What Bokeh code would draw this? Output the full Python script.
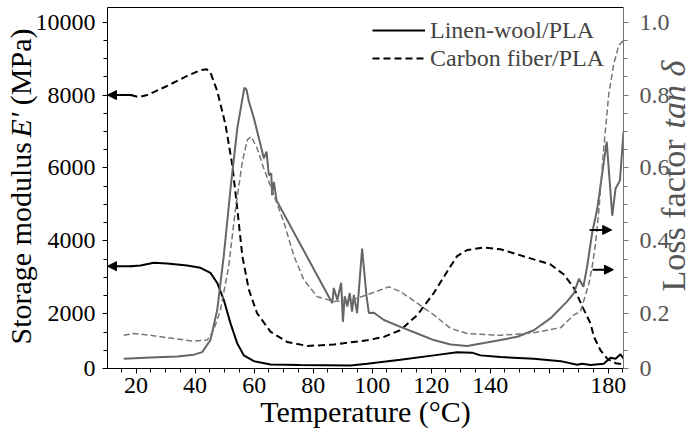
import math
from bokeh.plotting import figure
from bokeh.models import (Range1d, LinearAxis, FixedTicker, Label, Arrow, NormalHead,
                          Legend, LegendItem, PrintfTickFormatter)
from bokeh.embed import file_html
from bokeh.resources import INLINE

# ---------------- data ----------------
cf_E_T = [18.1, 20.8, 23.8, 30.5, 37.3, 41.8, 43.9, 45.2, 47.5, 50.3, 52.6, 54.3, 56.0, 58.2, 61.0,
          65.6, 71.2, 78.0, 87.0, 98.3, 104.0, 109.6, 115.3, 120.9, 125.5, 128.8, 132.2, 137.9,
          143.5, 149.2, 154.8, 160.5, 165.0, 168.4, 171.8, 174.0, 175.2, 177.4, 179.7, 182.5, 185.2]
cf_E = [7998, 7943, 7998, 8248, 8525, 8680, 8707, 8616, 8109, 7184, 6076, 4877, 3583, 2661, 2015,
        1506, 1229, 1118, 1156, 1276, 1367, 1553, 1968, 2569, 3168, 3583, 3749, 3816,
        3769, 3630, 3492, 3353, 3076, 2708, 2107, 1738, 1367, 999, 769, 647, 611]

lw_E_T = [18.1, 21.5, 26.0, 30.5, 37.3, 41.8, 45.2, 47.5, 49.7, 52.0, 54.3, 56.5, 59.9, 65.6, 75.7,
          92.7, 98.3, 109.6, 120.9, 128.8, 133.9, 136.7, 143.5, 154.8, 163.9, 169.5, 171.2, 174.0,
          178.5, 180.8, 182.5, 184.2, 185.2]
lw_E = [3306, 3325, 3400, 3381, 3325, 3262, 3123, 2846, 2384, 1738, 1184, 860, 702, 611, 597,
        583, 630, 741, 860, 943, 935, 860, 813, 769, 702, 603, 630, 597,
        630, 796, 769, 888, 769]

lw_tan_T = [15.8, 24.9, 33.9, 39.6, 42.4, 45.2, 47.5, 49.7, 52.0, 54.3, 56.0, 56.7, 57.4, 58.2, 59.9,
            61.6, 63.3, 64.2, 65.0, 65.8, 66.1, 66.7, 67.6, 75.7, 86.5, 87.0, 88.2, 89.5, 90.1, 90.7,
            91.6, 92.4, 93.2, 93.8, 94.9, 96.6, 98.1, 98.9, 100.6, 104.0, 109.6, 115.3, 120.9, 126.6,
            132.2, 137.9, 143.5, 149.2, 154.8, 160.5, 166.1, 168.4, 170.1, 171.6, 172.9, 174.6,
            176.3, 179.5, 181.4, 182.5, 184.0, 185.2]
lw_tan = [0.077, 0.080, 0.083, 0.088, 0.095, 0.128, 0.211, 0.358, 0.543, 0.709, 0.788, 0.820, 0.815,
          0.783, 0.737, 0.682, 0.626, 0.645, 0.580, 0.585, 0.525, 0.562, 0.511, 0.390, 0.229, 0.271,
          0.238, 0.285, 0.178, 0.248, 0.220, 0.257, 0.206, 0.252, 0.202, 0.379, 0.248, 0.202, 0.203,
          0.183, 0.164, 0.146, 0.128, 0.116, 0.112, 0.120, 0.128, 0.137, 0.155, 0.188, 0.234, 0.257,
          0.296, 0.274, 0.331, 0.423, 0.488, 0.672, 0.469, 0.543, 0.566, 0.700]

cf_tan_T = [15.8, 19.2, 24.9, 32.8, 39.6, 44.1, 46.3, 48.6, 51.4, 53.7, 56.0, 57.7, 59.0, 61.0, 63.3,
            66.7, 70.1, 73.5, 76.8, 81.4, 87.0, 92.7, 98.3, 105.7, 109.6, 115.3, 120.9, 126.6, 132.2,
            143.5, 154.8, 163.9, 168.4, 170.6, 171.8, 173.4, 174.7, 175.7, 176.8, 178.5, 180.2,
            181.9, 183.6, 185.1]
cf_tan = [0.141, 0.146, 0.141, 0.132, 0.125, 0.128, 0.155, 0.211, 0.331, 0.488, 0.617, 0.677, 0.686,
          0.654, 0.598, 0.525, 0.451, 0.358, 0.294, 0.247, 0.234, 0.237, 0.252, 0.274, 0.261, 0.229,
          0.197, 0.160, 0.146, 0.141, 0.148, 0.162, 0.197, 0.206, 0.238, 0.280, 0.335, 0.391, 0.479,
          0.654, 0.802, 0.885, 0.936, 0.949]

# arrows marking which axis each curve belongs to
left_arrow_T = [18.8, 10.3]
left_arrow_E = [7998, 3306]
right_arrow_T_start = [173.7, 174.7]
right_arrow_T_end = [181.2, 181.8]
right_arrow_tan = [0.430, 0.321]

x_ticks = [20, 40, 60, 80, 100, 120, 140, 160, 180]
x_tick_labels = {160: ""}
E_ticks = [500, 2000, 4000, 6000, 8000, 10000]
tan_ticks = [0.05, 0.2, 0.4, 0.6, 0.8, 1.0]

FONT = "Liberation Serif"
TICK_FS = "24px"
LEG_FS = "24px"
TITLE_FS = "30px"
RTITLE_FS = "34px"
GRAY = "#555555"
W, H = 697, 432

p = figure(width=W, height=H, output_backend="svg", toolbar_location=None,
           x_range=Range1d(10.3, 185.2), y_range=Range1d(500, 10400),
           min_border_left=107, min_border_right=74, min_border_top=7, min_border_bottom=64)
p.outline_line_color = None
p.grid.visible = False
p.background_fill_color = "white"
p.border_fill_color = "white"

xa = p.xaxis[0]
xa.ticker = FixedTicker(ticks=x_ticks, minor_ticks=list(range(10, 190, 5)))
xa.major_label_overrides = x_tick_labels
ya = p.yaxis[0]
ya.ticker = FixedTicker(ticks=E_ticks, minor_ticks=list(range(500, 10500, 500)))
ya.major_label_overrides = {500: "0"}

for ax in (xa, ya):
    ax.axis_line_color = "black"
    ax.major_tick_line_color = "black"
    ax.minor_tick_line_color = "black"
    ax.major_tick_in = 0
    ax.minor_tick_in = 0
    ax.major_tick_out = 5
    ax.minor_tick_out = 4
    ax.major_label_text_font = FONT
    ax.major_label_text_font_size = TICK_FS
    ax.major_label_text_color = "black"
xa.major_label_standoff = 4
ya.major_label_standoff = 7

p.extra_y_ranges = {"tan": Range1d(0.05, 1.04)}
ra = LinearAxis(y_range_name="tan",
                ticker=FixedTicker(ticks=tan_ticks, minor_ticks=[0.05 + 0.05 * i for i in range(20)]),
                formatter=PrintfTickFormatter(format="%.1f"))
ra.major_label_overrides = {0.05: "0"}
ra.axis_line_color = "#777777"
ra.major_tick_line_color = "#777777"
ra.minor_tick_line_color = "#777777"
ra.major_tick_in = 0
ra.minor_tick_in = 0
ra.major_tick_out = 5
ra.minor_tick_out = 4
ra.major_label_text_font = FONT
ra.major_label_text_font_size = TICK_FS
ra.major_label_text_color = GRAY
ra.major_label_standoff = 11
p.add_layout(ra, "right")

ta = LinearAxis(ticker=FixedTicker(ticks=[]), major_label_text_font_size="0px",
                major_tick_out=0, minor_tick_out=0, major_tick_in=0, minor_tick_in=0,
                major_label_standoff=0, axis_line_color="black")
p.add_layout(ta, "above")

r_cfE = p.line(cf_E_T, cf_E, line_color="black", line_width=2, line_dash="7 4")
r_lwE = p.line(lw_E_T, lw_E, line_color="black", line_width=2)
p.line(lw_tan_T, lw_tan, line_color="#666666", line_width=2, y_range_name="tan")
p.line(cf_tan_T, cf_tan, line_color="#777777", line_width=1.5, line_dash="6 3", y_range_name="tan")

for yv in left_arrow_E:
    p.add_layout(Arrow(end=NormalHead(size=9, fill_color="black", line_color="black"),
                       x_start=left_arrow_T[0], y_start=yv, x_end=left_arrow_T[1], y_end=yv,
                       line_width=2, line_color="black"))
for xs, xe, yv in zip(right_arrow_T_start, right_arrow_T_end, right_arrow_tan):
    p.add_layout(Arrow(end=NormalHead(size=9, fill_color="black", line_color="black"),
                       x_start=xs, y_start=yv, x_end=xe, y_end=yv, y_range_name="tan",
                       line_width=2, line_color="black"))

legend = Legend(items=[LegendItem(label="Linen-wool/PLA", renderers=[r_lwE]),
                       LegendItem(label="Carbon fiber/PLA", renderers=[r_cfE])],
                location=(265, 296), glyph_width=53, glyph_height=28, label_height=28,
                label_standoff=5, spacing=0, padding=0, margin=0,
                background_fill_alpha=0, border_line_alpha=0,
                label_text_font=FONT, label_text_font_size=LEG_FS)
p.add_layout(legend)

# ---------- transparent overlay carrying the axis titles (mixed italic) ----------
ov = figure(width=W, height=H, output_backend="svg", toolbar_location=None,
            x_range=Range1d(0, W), y_range=Range1d(0, H), min_border=0,
            x_axis_type=None, y_axis_type=None)
ov.outline_line_color = None
ov.background_fill_alpha = 0
ov.border_fill_alpha = 0
ov.styles = {"position": "absolute", "left": "0px", "top": "0px", "pointer-events": "none"}

def lab(text, x, y, angle=0.0, style="normal", color="black", align="left", size=TITLE_FS):
    ov.add_layout(Label(text=text, x=x, y=y, angle=angle,
                        text_font=FONT, text_font_size=size, text_font_style=style,
                        text_color=color, text_align=align, text_baseline="middle"))

a = math.pi / 2
lab("Temperature (°C)", 365, 21, align="center")
lab("Storage modulus", 20, 88, a)
lab("E'", 20, 295, a, "italic")
lab("(MPa)", 20, 327.3, a)
lab("Loss factor", 673, 141, a, color=GRAY, size=RTITLE_FS)
lab("tan δ", 673, 304, a, "italic", color=GRAY, size=RTITLE_FS)

open("out.html", "w").write(file_html([p, ov], INLINE))
